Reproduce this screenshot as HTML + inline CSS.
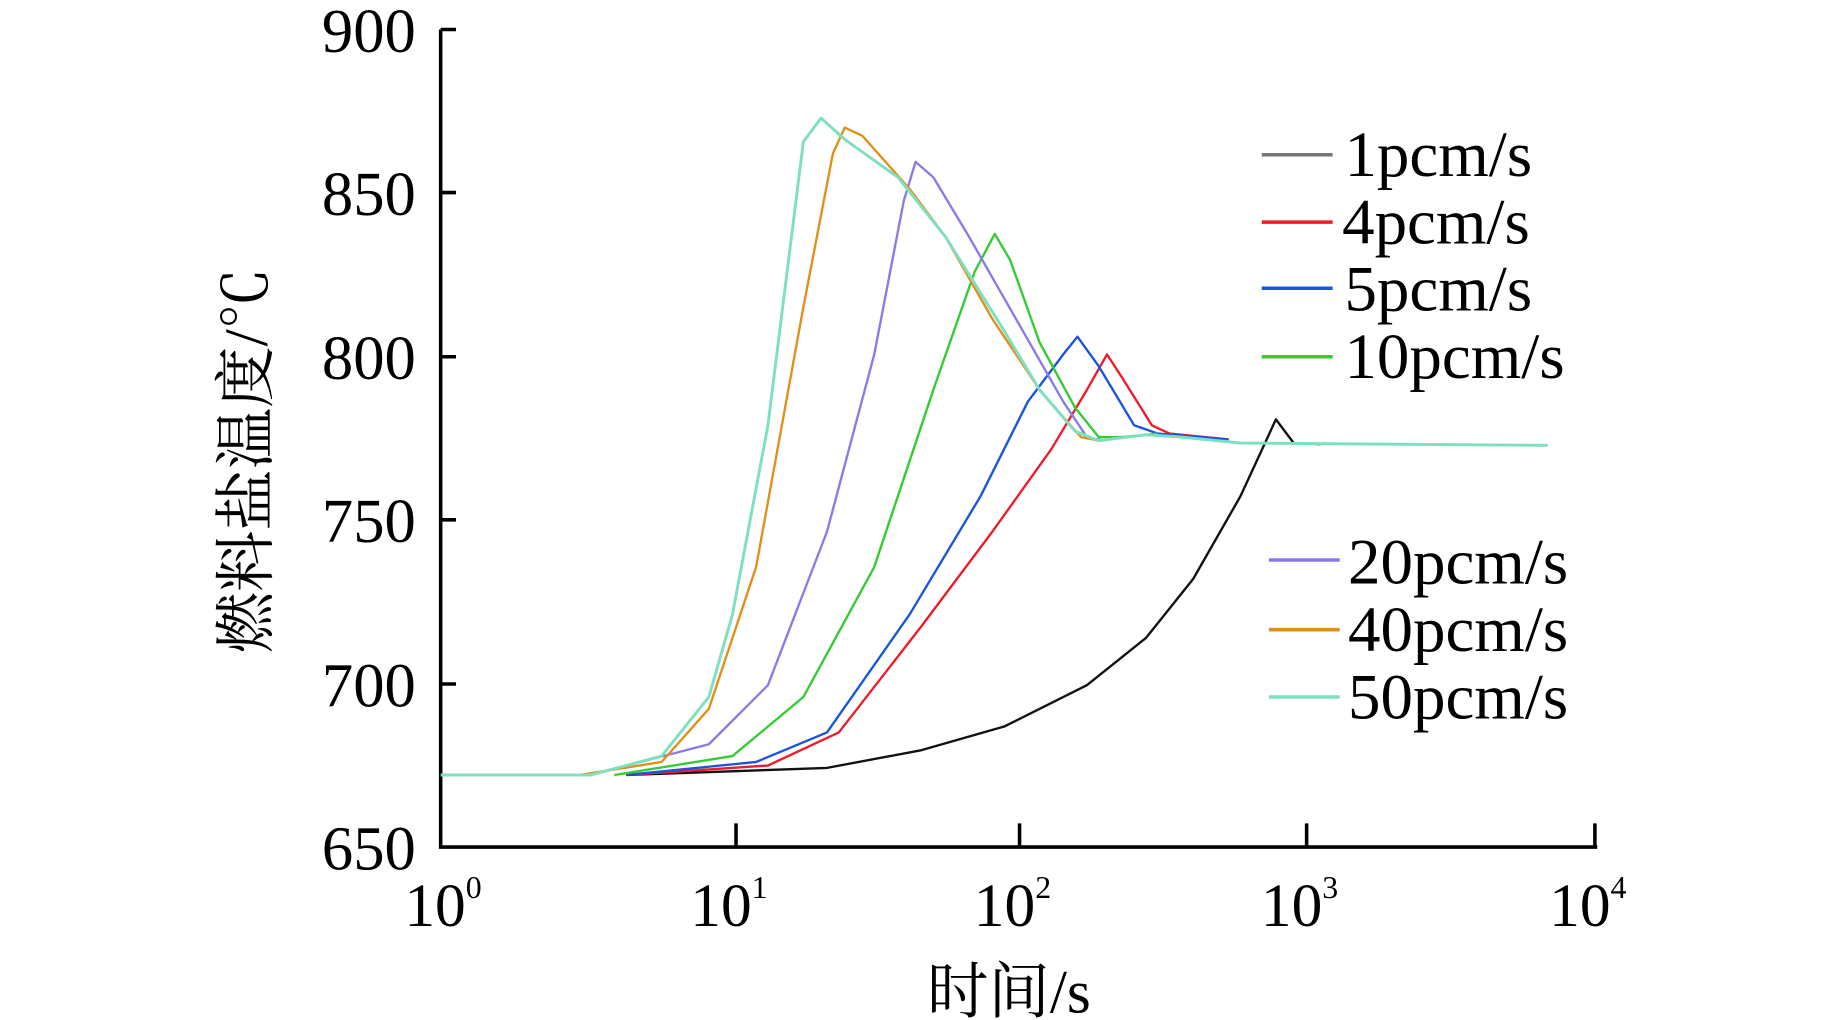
<!DOCTYPE html>
<html><head><meta charset="utf-8"><style>html,body{margin:0;padding:0;background:#fff}svg{display:block}</style></head>
<body>
<svg width="1843" height="1020" viewBox="0 0 1560 863.4" preserveAspectRatio="none" xmlns="http://www.w3.org/2000/svg" font-family="'Liberation Serif','Noto Serif CJK SC',serif">
<g stroke="#000" stroke-width="3" fill="none">
<path d="M373,25 V717 H1352"/>
<path d="M373,25 h13 M373,163 h13 M373,302 h13 M373,440 h13 M373,579 h13"/>
<path d="M623,717 v-20 M863,717 v-20 M1106,717 v-20 M1350,717 v-20"/>
</g>
<g font-size="53" text-anchor="end" fill="#000">
<text x="352" y="44">900</text><text x="352" y="182">850</text><text x="352" y="321">800</text><text x="352" y="459">750</text><text x="352" y="598">700</text><text x="352" y="736">650</text>
</g>
<g font-size="52" fill="#000" text-anchor="middle">
<text x="375" y="784">10<tspan font-size="27" dy="-24">0</tspan></text>
<text x="617" y="784">10<tspan font-size="27" dy="-24">1</tspan></text>
<text x="857" y="784">10<tspan font-size="27" dy="-24">2</tspan></text>
<text x="1100" y="784">10<tspan font-size="27" dy="-24">3</tspan></text>
<text x="1344" y="784">10<tspan font-size="27" dy="-24">4</tspan></text>
<text x="854" y="857" font-size="52">时间/s</text>
<text transform="translate(226,390) rotate(-90)" font-size="52">燃料盐温度/℃</text>
</g>
<g fill="none" stroke-width="2" stroke-linejoin="round">
<path stroke="#111" d="M530,656 L700,650 L780,635 L850,615 L920,580 L970,540 L1010,490 L1050,420 L1080,355 L1095,375 L1118,376"/>
<path stroke="#ee1c2a" d="M530,656 L650,648 L710,620 L780,530 L840,450 L890,380 L920,330 L937,300 L950,320 L975,360 L990,367 L1040,372"/>
<path stroke="#1a55e0" d="M530,656 L640,645 L700,620 L770,520 L830,420 L870,340 L900,300 L912,285 L930,310 L960,360 L980,367 L1040,372"/>
<path stroke="#33cc33" d="M520,656 L620,640 L680,590 L740,480 L790,330 L825,230 L842,198 L855,220 L880,290 L910,345 L930,370 L950,370 L980,367"/>
<path stroke="#8a7ce8" d="M500,656 L600,630 L650,580 L700,450 L740,300 L765,170 L775,137 L790,150 L820,200 L860,270 L900,340 L920,370 L935,373"/>
<path stroke="#e0901a" d="M490,656 L560,645 L600,600 L640,480 L680,260 L705,130 L715,108 L730,115 L770,160 L800,200 L840,270 L880,330 L915,370 L930,373"/>
<path stroke="#7fe0c0" stroke-width="2.5" d="M373,656 L500,656 L560,640 L600,590 L620,520 L650,360 L680,120 L695,100 L715,118 L760,150 L800,200 L850,280 L880,330 L910,365 L930,373 L970,368 L1000,370 L1050,375 L1310,377"/>
</g>
<g stroke-width="3">
<line x1="1068" y1="131" x2="1128" y2="131" stroke="#777"/>
<line x1="1068" y1="188" x2="1128" y2="188" stroke="#ee1c2a"/>
<line x1="1068" y1="244" x2="1128" y2="244" stroke="#1a55e0"/>
<line x1="1068" y1="302" x2="1128" y2="302" stroke="#33cc33"/>
<line x1="1074" y1="474" x2="1134" y2="474" stroke="#8a7ce8"/>
<line x1="1074" y1="533" x2="1134" y2="533" stroke="#e0901a"/>
<line x1="1074" y1="590" x2="1134" y2="590" stroke="#7fe0c0"/>
</g>
<g font-size="55" fill="#000">
<text x="1138" y="149">1pcm/s</text><text x="1136" y="206">4pcm/s</text><text x="1138" y="263">5pcm/s</text><text x="1138" y="320">10pcm/s</text>
<text x="1141" y="494">20pcm/s</text><text x="1141" y="551">40pcm/s</text><text x="1141" y="608">50pcm/s</text>
</g>
</svg>
</body></html>
